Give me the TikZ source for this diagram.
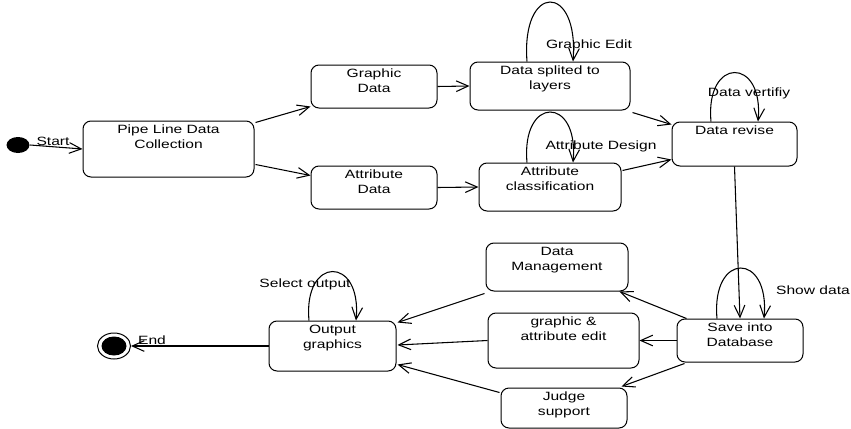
\documentclass[tikz,border=0pt]{standalone}
\usepackage{fontspec}
\setmainfont{Liberation Sans}[FakeStretch=1.3]
\usetikzlibrary{arrows.meta,fit,calc,shapes.geometric}

\tikzset{every picture/.style={line width=0.75pt}}
\tikzset{
  state/.style={draw, rounded corners=6pt, inner sep=0pt},
  statetext/.style={anchor=north, align=center, inner sep=0pt, yshift=-3.2pt, font=\fontsize{9}{11.25}\selectfont},
  looptext/.style={inner sep=0pt, font=\fontsize{9}{11.25}\selectfont},
  trans/.style={line width=0.8pt, -{Straight Barb[length=9pt,width=8pt]}},
  startdot/.style={ellipse, fill=black, minimum width=17.25pt, minimum height=12pt, inner sep=0pt},
  endring/.style={ellipse, draw, minimum width=24.75pt, minimum height=19.5pt, inner sep=0pt},
  enddot/.style={ellipse, fill=black, minimum width=18.75pt, minimum height=14.25pt, inner sep=0pt},
}

\begin{document}
\begin{tikzpicture}[x=0.75pt,y=0.75pt,yscale=-1,xscale=1]
\useasboundingbox (0,0) rectangle (851,429);

% start and end
\node[startdot] (start) at (18,145) {};
\node[endring] (end) at (114,346) {};
\node[enddot] (endcore) at (end.center) {};

% states
\node[state, fit={(83,121) (254,177)}, label={[statetext]north:Pipe Line Data\\Collection}] (pipe) {};
\node[state, fit={(311,65) (437,108)}, label={[statetext]north:Graphic\\Data}] (gdata) {};
\node[state, fit={(470,62) (630,110)}, label={[statetext]north:Data splited to\\layers}] (split) {};
\node[state, fit={(311,166) (437,209)}, label={[statetext]north:Attribute\\Data}] (adata) {};
\node[state, fit={(479,163) (621,211)}, label={[statetext]north:Attribute\\classification}] (aclass) {};
\node[state, fit={(672,122) (797,166)}, label={[statetext]north:Data revise}] (revise) {};
\node[state, fit={(677,319) (803,362)}, label={[statetext]north:Save into\\Database}] (save) {};
\node[state, fit={(486,243) (628,291)}, label={[statetext]north:Data\\Management}] (dman) {};
\node[state, fit={(488,313) (639,368)}, label={[statetext]north:graphic \&\\attribute edit}] (gaedit) {};
\node[state, fit={(501,388) (627,428)}, label={[statetext]north:Judge\\support}] (judge) {};
\node[state, fit={(269,321) (396,371)}, label={[statetext]north:Output\\graphics}] (output) {};

% transitions
\draw[trans] (start.east) -- (pipe.west);
\draw[trans] ($(pipe.north east)+(1,2)$) -- ($(gdata.south west)+(0,-2)$);
\draw[trans] ($(pipe.south east)+(1,-13)$) -- ($(adata.north west)+(0,10)$);
\draw[trans] (gdata.east) -- (split.west);
\draw[trans] (adata.east) -- (aclass.west);
\draw[trans] ($(split.south east)+(2,2)$) -- ($(revise.north west)+(0,3)$);
\draw[trans] ($(aclass.north east)+(1,8)$) -- ($(revise.south west)+(0,-7)$);
\draw[trans] (revise.south) -- (save.north);
\draw[trans] ($(save.north west)+(10,0)$) -- ($(dman.south east)+(-9,0)$);
\draw[trans] (save.west) -- (gaedit.east);
\draw[trans] ($(save.south west)+(8,1)$) -- ($(judge.north east)+(-6,-1)$);
\draw[trans] ($(dman.south west)+(-1,2)$) -- ($(output.north east)+(1,2)$);
\draw[trans] (gaedit.west) -- ($(output.east)+(1,-1)$);
\draw[trans] ($(judge.north west)+(-1,5)$) -- ($(output.south east)+(1,-7)$);
\draw[trans] (output.west) -- (end.east);

% self loops
\draw[trans] ($(split.north)+(-23,0)$) .. controls +(-6,-79) and +(6,-79) .. ($(split.north)+(23,0)$);
\draw[trans] ($(aclass.north)+(-23,0)$) .. controls +(-6,-67) and +(6,-67) .. ($(aclass.north)+(23,0)$);
\draw[trans] ($(revise.north)+(-23.5,0)$) .. controls +(-6,-65) and +(6,-65) .. ($(revise.north)+(23.5,0)$);
\draw[trans] ($(save.north)+(-23,0)$) .. controls +(-6,-67) and +(6,-67) .. ($(save.north)+(24,0)$);
\draw[trans] ($(output.north)+(-23.5,0)$) .. controls +(-6,-65) and +(6,-65) .. ($(output.north)+(23.5,0)$);

% labels
\node[looptext] (lblstart) at (53,141) {Start};
\node[looptext] (lblend) at (152,340) {End};
\node[looptext] (lblgedit) at (589,45) {Graphic Edit};
\node[looptext] (lbladesign) at (601,146) {Attribute Design};
\node[looptext] (lblverify) at (749,93) {Data vertifiy};
\node[looptext] (lblshow) at (813,290) {Show data};
\node[looptext] (lblselect) at (305,284) {Select output};

\end{tikzpicture}
\end{document}
